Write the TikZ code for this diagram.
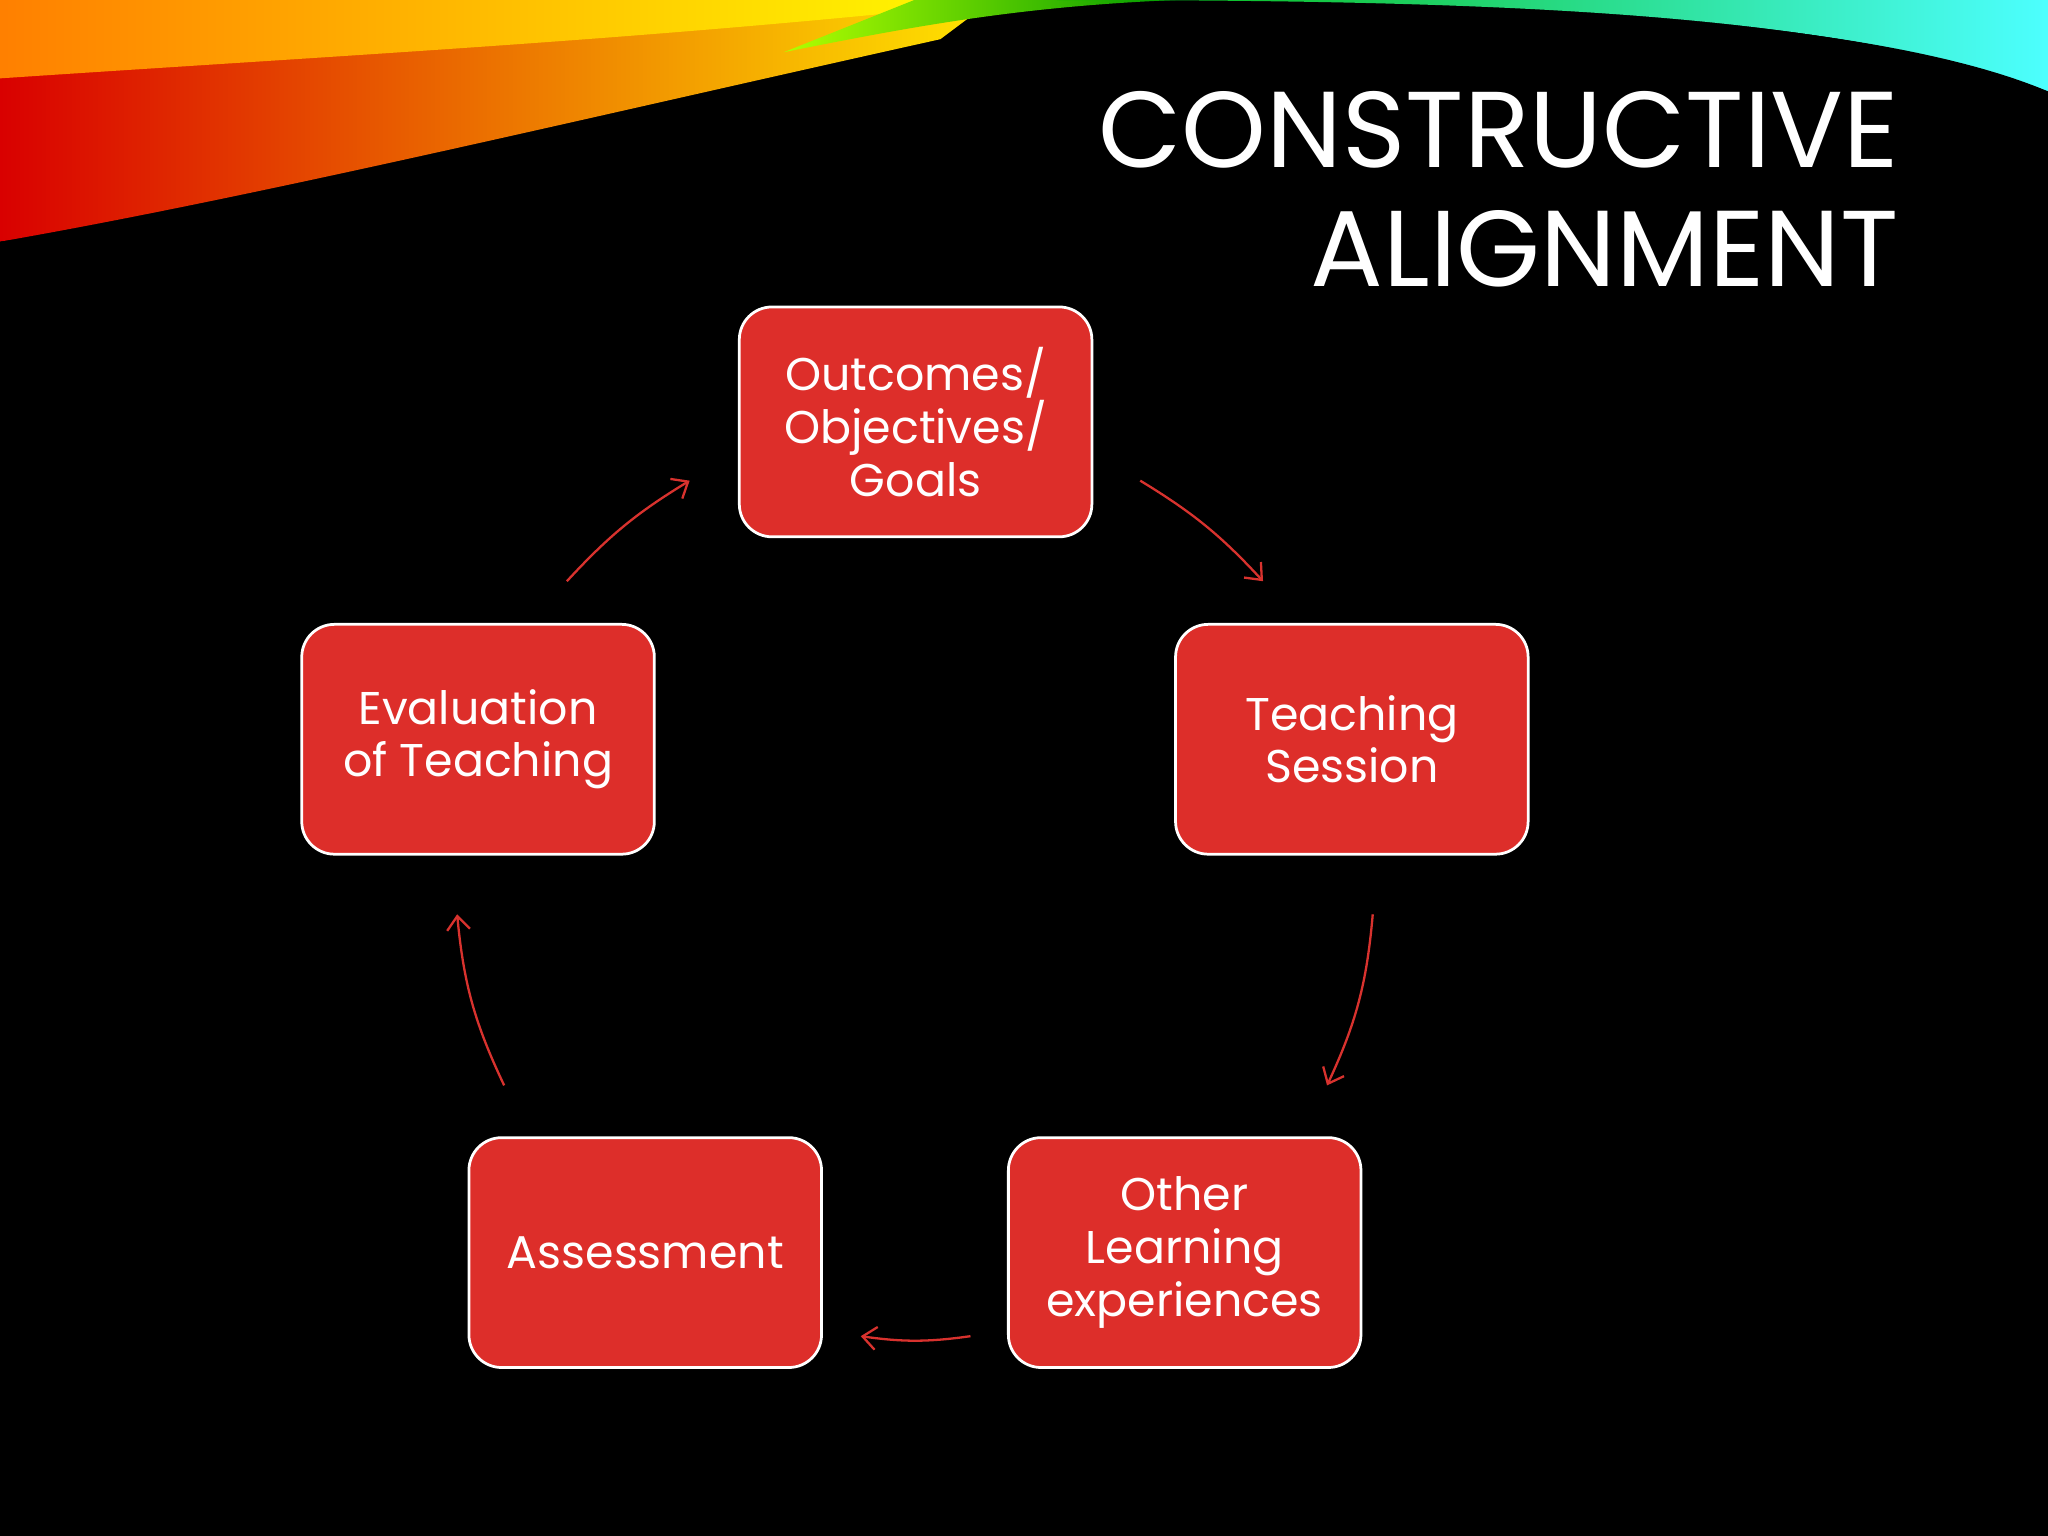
\documentclass[tikz,border=0pt]{standalone}
\usepackage{fontspec}
\setmainfont{Poppins}
\usetikzlibrary{arrows.meta}
\definecolor{boxred}{HTML}{DD2E2A}
\definecolor{arrred}{HTML}{D8322E}
\begin{document}
\begin{tikzpicture}[x=0.02cm,y=-0.02cm,
  box/.style={draw=white,line width=1.2pt,fill=boxred,rounded corners=0.5cm,minimum width=5.4cm,minimum height=3.52cm,align=center,text=white,font=\fontsize{20}{23}\selectfont},
  cyc/.style={draw=arrred,line width=1pt,-{Straight Barb[length=6pt,width=10pt]}}]
\useasboundingbox (0,0) rectangle (1568,1176);
\clip (0,0) rectangle (1568,1176);
\fill[black] (0,0) rectangle (1568,1176);
% swoosh
\shade[left color=red!85!black,right color=yellow!80!orange] (0,0) -- (0,185) .. controls (200,150) and (450,90) .. (720,30) -- (760,0) -- cycle;
\shade[left color=orange,right color=yellow] (0,0) -- (0,60) .. controls (300,40) and (500,30) .. (780,0) -- cycle;
\shade[left color=yellow!70!green,right color=green!60!black] (600,40) .. controls (700,20) and (780,5) .. (900,0) -- (700,0) -- cycle;
\shade[left color=green!70!black,right color=cyan!70!white] (800,0) .. controls (1100,0) and (1400,5) .. (1568,70) -- (1568,0) -- cycle;
\fill[black] (0,185) .. controls (300,150) and (550,60) .. (900,8) .. controls (1200,0) and (1450,20) .. (1568,70) -- (1568,1176) -- (0,1176) -- cycle;
\node[anchor=east,text=white,align=right,font=\fontsize{47}{52}\selectfont] (title) at (1460,145) {CONSTRUCTIVE\\ALIGNMENT};
\node[box] (o) at (701,323) {Outcomes/\\Objectives/\\Goals};
\node[box] (t) at (1035,566) {Teaching\\Session};
\node[box] (l) at (907,959) {Other\\Learning\\experiences};
\node[box] (a) at (494,959) {Assessment};
\node[box] (e) at (366,566) {Evaluation\\of Teaching};
\coordinate (a1s) at (873,368); \coordinate (a1e) at (967,445);
\coordinate (a2s) at (1051,700); \coordinate (a2e) at (1016,831);
\coordinate (a3s) at (743,1023); \coordinate (a3e) at (659,1023);
\coordinate (a4s) at (386,831); \coordinate (a4e) at (350,700);
\coordinate (a5s) at (434,445); \coordinate (a5e) at (528,368);
\draw[cyc] (a1s) to[bend left=8] (a1e);
\draw[cyc] (a2s) to[bend left=10] (a2e);
\draw[cyc] (a3s) to[bend left=8] (a3e);
\draw[cyc] (a4s) to[bend left=10] (a4e);
\draw[cyc] (a5s) to[bend left=8] (a5e);
\end{tikzpicture}
\end{document}
